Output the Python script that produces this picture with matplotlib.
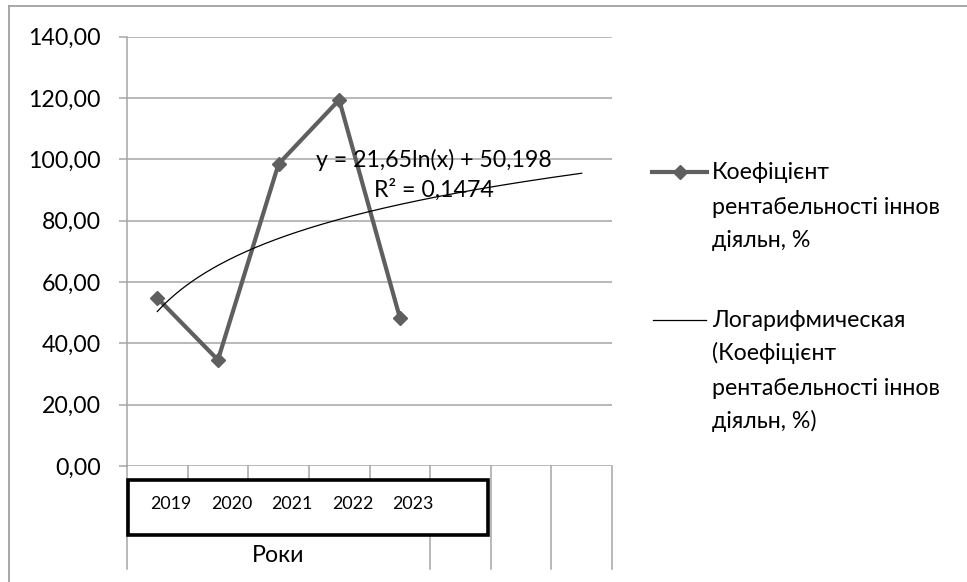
import numpy as np
import matplotlib
matplotlib.use("Agg")
import matplotlib.pyplot as plt
from matplotlib.lines import Line2D
from matplotlib.patches import Rectangle

# ---------------- data ----------------
years = ["2019", "2020", "2021", "2022", "2023"]
values = [54.8, 34.6, 98.5, 119.4, 48.4]
n_categories = 8                      # axis has 8 category slots, data fills the first 5
group_label = "Роки"
y_ticks = [0, 20, 40, 60, 80, 100, 120, 140]
y_ticklabels = ["0,00", "20,00", "40,00", "60,00", "80,00", "100,00", "120,00", "140,00"]
eq_text = ["y = 21,65ln(x) + 50,198", "R² = 0,1474"]
legend1 = ["Коефіцієнт", "рентабельності іннов", "діяльн, %"]
legend2 = ["Логарифмическая", "(Коефіцієнт", "рентабельності іннов", "діяльн, %)"]

# ---------------- style ----------------
plt.rcParams['font.family'] = ['Lato', 'DejaVu Sans']
W, H = 967, 582
FS = 16.7
series_color = "#5f5f5f"
grid_color = "#a6a6a6"

fig = plt.figure(figsize=(W / 100, H / 100), dpi=100)

def fx(px):
    return px / W

def fy(py):
    return 1 - py / H

ax_l, ax_r, ax_t, ax_b = 127, 612, 36.7, 466
ax = fig.add_axes([fx(ax_l), fy(ax_b), fx(ax_r - ax_l), (ax_b - ax_t) / H])

x = np.arange(1, len(values) + 1)
ax.plot(x, values, color=series_color, lw=3.0, marker='D', markersize=7.5,
        markerfacecolor=series_color, markeredgecolor=series_color, zorder=3,
        solid_joinstyle='miter')

# logarithmic trend (fitted from the data, forecast to the last category)
coef = np.polyfit(np.log(x), values, 1)
xt = np.linspace(1, n_categories, 300)
ax.plot(xt, coef[0] * np.log(xt) + coef[1], color="black", lw=0.9, zorder=4)

ax.set_xlim(0.5, n_categories + 0.5)
ax.set_ylim(0, 140)
ax.set_yticks(y_ticks)
ax.set_yticklabels(y_ticklabels, fontsize=FS)
ax.set_xticks([])
ax.tick_params(axis='y', length=6, width=1.1, color=grid_color, pad=13)
ax.grid(axis='y', color=grid_color, lw=1.1)
ax.set_axisbelow(True)
for s in ['top', 'right']:
    ax.spines[s].set_visible(False)
ax.spines['bottom'].set_visible(False)
ax.spines['left'].set_color(grid_color)
ax.spines['left'].set_linewidth(1.1)

# equation text
ex = 434
for txt, base in zip(eq_text, [167, 197]):
    fig.text(fx(ex), fy(base), txt, ha='center', va='baseline', fontsize=FS, zorder=5)

# ---------------- multi-level category axis ----------------
tr = ax.get_xaxis_transform()
ah = ax_b - ax_t
def ya(py):
    return (ax_b - py) / ah

bounds = np.arange(0.5, n_categories + 1, 1.0)
for b in bounds:
    long = (b <= 0.5) or (b >= len(values) + 0.5)
    y_end = 569 if long else 481
    ax.add_line(Line2D([b, b], [ya(ax_b), ya(y_end)], transform=tr, color=grid_color,
                       lw=1.1, clip_on=False, zorder=1))

# category year labels inside a framed box
box = Rectangle((fx(128), fy(535)), fx(488 - 128), (535 - 480) / H, transform=fig.transFigure,
                facecolor='white', edgecolor='black', lw=2.6, zorder=6, clip_on=False)
ax.add_patch(box)
for i, yr in enumerate(years):
    ax.text(x[i] + 0.22, ya(504), yr, transform=tr, ha='center', va='center',
            fontsize=12.8, zorder=7, clip_on=False)

ax.text((1 + len(values)) / 2, ya(555), group_label, transform=tr, ha='center', va='center',
        fontsize=FS, clip_on=False)

# ---------------- legend (drawn manually) ----------------
fig.add_artist(Line2D([fx(652), fx(707)], [fy(172.3), fy(172.3)], color=series_color, lw=3.0))
fig.add_artist(Line2D([fx(679.5)], [fy(172.3)], marker='D', markersize=7.5,
                      color=series_color, lw=0))
for txt, base in zip(legend1, [179, 214, 247]):
    fig.text(fx(712), fy(base), txt, ha='left', va='baseline', fontsize=FS)

fig.add_artist(Line2D([fx(653), fx(706)], [fy(320), fy(320)], color='black', lw=0.9))
for txt, base in zip(legend2, [327, 360, 395, 428]):
    fig.text(fx(712), fy(base), txt, ha='left', va='baseline', fontsize=FS)

# chart-area border (cut off at right and bottom)
fig.add_artist(Line2D([fx(9), fx(W + 5)], [fy(6), fy(6)], color='#a0a0a0', lw=1.3))
fig.add_artist(Line2D([fx(9), fx(9)], [fy(6), fy(H + 5)], color='#a0a0a0', lw=1.3))

fig.savefig("out.png", dpi=100)
